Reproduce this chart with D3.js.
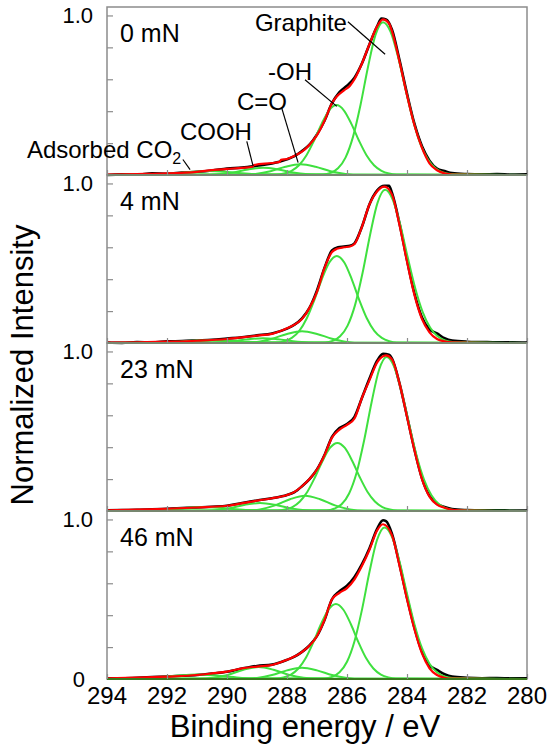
<!DOCTYPE html>
<html>
<head>
<meta charset="utf-8">
<script src="https://cdn.jsdelivr.net/npm/d3@7"></script>
<style>
  body { margin: 0; background: #fff; }
  svg text { font-family: Arial, "Liberation Sans", sans-serif; fill: #000; }
</style>
</head>
<body>
<div id="chart"></div>
<script>
// C 1s spectra, normalized, one panel per load
const loads = ['0 mN', '4 mN', '23 mN', '46 mN'];
const energyTicks = [294, 292, 290, 288, 286, 284, 282, 280];
const intensityTicks = [0.2, 0.4, 0.6, 0.8, 1.0];

// measured spectra (black), [binding energy, intensity]
const measured = [
  [[294,.0],[293.5,.004],[293,.002],[292.5,.01],[292,.008],[291.5,.015],[291,.02],[290.5,.028],[290,.04],[289.5,.046],[289,.058],[288.5,.072],[288,.098],[287.75,.118],[287.5,.15],[287.25,.19],[287,.255],[286.75,.34],[286.5,.45],[286.25,.52],[286,.56],[285.75,.61],[285.5,.70],[285.25,.82],[285,.93],[284.85,.98],[284.7,.975],[284.5,.91],[284.25,.72],[284,.51],[283.75,.32],[283.5,.18],[283.25,.09],[283,.04],[282.75,.025],[282.5,.012],[282,.006],[281.5,.004],[281,.006],[280.5,.003],[280,.004]],
  [[294,.003],[293.5,.001],[293,.006],[292.5,.004],[292,.01],[291.5,.012],[291,.016],[290.5,.02],[290,.028],[289.5,.036],[289,.048],[288.5,.06],[288,.09],[287.75,.115],[287.5,.155],[287.25,.22],[287,.33],[286.75,.47],[286.5,.58],[286.3,.60],[286.1,.605],[285.9,.61],[285.75,.625],[285.5,.73],[285.25,.87],[285,.955],[284.75,.985],[284.6,.985],[284.5,.94],[284.25,.75],[284,.52],[283.75,.31],[283.5,.16],[283.25,.085],[283,.06],[282.75,.03],[282.5,.015],[282,.008],[281.5,.006],[281,.004],[280.5,.005],[280,.003]],
  [[294,.004],[293.5,.006],[293,.007],[292.5,.01],[292,.014],[291.5,.018],[291,.022],[290.5,.027],[290,.033],[289.5,.05],[289,.066],[288.5,.08],[288,.1],[287.75,.118],[287.5,.155],[287.25,.2],[287,.26],[286.75,.35],[286.5,.465],[286.25,.52],[286,.545],[285.75,.59],[285.5,.71],[285.25,.83],[285,.94],[284.8,.985],[284.6,.98],[284.5,.955],[284.25,.80],[284,.595],[283.75,.385],[283.5,.205],[283.25,.095],[283,.045],[282.75,.025],[282.5,.012],[282,.006],[281.5,.004],[281,.005],[280.5,.003],[280,.003]],
  [[294,.004],[293.5,.005],[293,.008],[292.5,.012],[292,.016],[291.5,.02],[291,.025],[290.5,.034],[290,.045],[289.5,.065],[289,.082],[288.5,.09],[288,.12],[287.75,.14],[287.5,.17],[287.25,.21],[287,.27],[286.75,.37],[286.5,.5],[286.25,.55],[286,.585],[285.75,.64],[285.5,.72],[285.25,.82],[285,.94],[284.8,.995],[284.7,.99],[284.5,.91],[284.25,.72],[284,.51],[283.75,.32],[283.5,.17],[283.25,.085],[283,.057],[282.75,.03],[282.5,.015],[282,.008],[281.5,.005],[281,.006],[280.5,.004],[280,.004]]
];

// fitted envelope (red)
const envelope = [
  [[294,.003],[293,.006],[292,.01],[291,.02],[290.5,.03],[290,.038],[289.5,.045],[289.15,.052],[289.1,.062],[288.5,.075],[288.25,.082],[288.2,.095],[288,.1],[287.75,.12],[287.5,.146],[287.25,.19],[287,.25],[286.75,.34],[286.5,.45],[286.35,.49],[286.1,.53],[285.9,.56],[285.75,.60],[285.5,.70],[285.25,.82],[285,.93],[284.8,.975],[284.6,.95],[284.5,.9],[284.25,.71],[284,.5],[283.75,.31],[283.5,.17],[283.25,.073],[283,.03],[282.75,.01],[282.5,.003],[281,0],[280,0]],
  [[294,.002],[293,.004],[292,.008],[291,.014],[290,.025],[289.5,.035],[289,.046],[288.5,.057],[288,.092],[287.75,.115],[287.5,.15],[287.25,.22],[287,.32],[286.75,.47],[286.5,.57],[286.34,.59],[286.1,.60],[285.9,.605],[285.75,.62],[285.5,.73],[285.25,.87],[285,.95],[284.75,.98],[284.5,.93],[284.25,.74],[284,.51],[283.75,.30],[283.5,.15],[283.25,.067],[283,.025],[282.75,.01],[282.5,.004],[281,0],[280,0]],
  [[294,.004],[293,.008],[292,.014],[291,.022],[290,.033],[289,.065],[288.5,.08],[288,.10],[287.75,.12],[287.5,.155],[287.25,.2],[287,.26],[286.75,.35],[286.5,.46],[286.25,.51],[286,.54],[285.75,.58],[285.5,.71],[285.25,.82],[285,.93],[284.7,.975],[284.5,.95],[284.25,.80],[284,.59],[283.75,.38],[283.5,.20],[283.25,.09],[283,.04],[282.75,.02],[282.5,.008],[282,.002],[281,0],[280,0]],
  [[294,.004],[293,.008],[292,.015],[291,.025],[290.5,.035],[290,.046],[289.5,.067],[289,.078],[288.5,.088],[288,.12],[287.5,.17],[287,.27],[286.75,.37],[286.5,.5],[286.25,.54],[286,.57],[285.75,.625],[285.5,.71],[285.25,.81],[285,.93],[284.8,.97],[284.5,.9],[284.25,.71],[284,.5],[283.75,.31],[283.5,.16],[283.25,.067],[283,.025],[282.75,.008],[282.5,.002],[281,0],[280,0]]
];

// fitted components (green)
const graphite = [
  [[286.8,.004],[286.55,.013],[286.3,.042],[286.05,.109],[285.8,.239],[285.55,.439],[285.3,.677],[285.05,.878],[284.8,.958],[284.55,.899],[284.3,.742],[284.05,.539],[283.8,.345],[283.55,.194],[283.3,.097],[283.05,.042],[282.8,.016],[282.55,.006]],
  [[286.73,.004],[286.48,.013],[286.23,.042],[285.98,.109],[285.73,.239],[285.48,.440],[285.23,.679],[284.98,.880],[284.73,.96],[284.48,.900],[284.23,.744],[283.98,.540],[283.73,.346],[283.48,.195],[283.23,.097],[282.98,.042],[282.73,.016],[282.48,.006]],
  [[286.68,.004],[286.43,.014],[286.18,.042],[285.93,.110],[285.68,.240],[285.43,.442],[285.18,.682],[284.93,.885],[284.68,.965],[284.43,.905],[284.18,.748],[283.93,.543],[283.68,.347],[283.43,.196],[283.18,.097],[282.93,.042],[282.68,.016],[282.43,.006]],
  [[286.75,.004],[286.5,.013],[286.25,.042],[286,.108],[285.75,.237],[285.5,.435],[285.25,.672],[285,.871],[284.75,.95],[284.5,.891],[284.25,.736],[284,.535],[283.75,.342],[283.5,.193],[283.25,.096],[283,.042],[282.75,.016],[282.5,.006]]
];
const hydroxyl = [
  [[288.35,.003],[288.1,.009],[287.85,.026],[287.6,.061],[287.35,.124],[287.1,.215],[286.85,.319],[286.6,.404],[286.35,.438],[286.1,.404],[285.85,.319],[285.6,.215],[285.35,.124],[285.1,.061],[284.85,.026],[284.6,.009],[284.35,.003]],
  [[288.34,.003],[288.09,.011],[287.84,.032],[287.59,.076],[287.34,.155],[287.09,.269],[286.84,.399],[286.59,.505],[286.34,.546],[286.09,.505],[285.84,.399],[285.59,.269],[285.34,.155],[285.09,.076],[284.84,.032],[284.59,.011],[284.34,.003]],
  [[288.32,.003],[288.07,.009],[287.82,.025],[287.57,.060],[287.32,.121],[287.07,.210],[286.82,.312],[286.57,.395],[286.32,.427],[286.07,.395],[285.82,.312],[285.57,.210],[285.32,.121],[285.07,.060],[284.82,.025],[284.57,.009],[284.32,.003]],
  [[288.37,.003],[288.12,.010],[287.87,.028],[287.62,.066],[287.37,.133],[287.12,.231],[286.87,.343],[286.62,.434],[286.37,.47],[286.12,.434],[285.87,.343],[285.62,.231],[285.37,.133],[285.12,.066],[284.87,.028],[284.62,.010],[284.37,.003]]
];
const carbonyl = [
  [[289.55,.001],[289.05,.007],[288.55,.024],[288.05,.052],[287.55,.067],[287.05,.052],[286.55,.024],[286.05,.007],[285.55,.001]],
  [[289.5,.001],[289,.007],[288.5,.027],[288,.057],[287.5,.074],[287,.057],[286.5,.027],[286,.007],[285.5,.001]],
  [[289.4,.002],[288.9,.010],[288.4,.035],[287.9,.074],[287.4,.096],[286.9,.074],[286.4,.035],[285.9,.010],[285.4,.002]],
  [[289.5,.001],[289,.007],[288.5,.025],[288,.054],[287.5,.07],[287,.054],[286.5,.025],[286,.007],[285.5,.001]]
];
const carboxyl = [
  [[290.8,.001],[290.3,.005],[289.8,.016],[289.3,.035],[288.8,.045],[288.3,.035],[287.8,.016],[287.3,.005],[286.8,.001]],
  [[290.8,.001],[290.3,.003],[289.8,.011],[289.3,.023],[288.8,.03],[288.3,.023],[287.8,.011],[287.3,.003],[286.8,.001]],
  [[290.9,.001],[290.4,.005],[289.9,.018],[289.4,.039],[288.9,.05],[288.4,.039],[287.9,.018],[287.4,.005],[286.9,.001]],
  [[290.95,.001],[290.45,.008],[289.95,.027],[289.45,.058],[288.95,.075],[288.45,.058],[287.95,.027],[287.45,.008],[286.95,.001]]
];
const adsorbedCO2 = [
  [[293.1,.001],[292.6,.002],[292.1,.006],[291.6,.013],[291.1,.021],[290.6,.025],[290.1,.021],[289.6,.013],[289.1,.006],[288.6,.002],[288.1,.001]],
  [[293,.0004],[292.5,.002],[292,.004],[291.5,.010],[291,.015],[290.5,.018],[290,.015],[289.5,.010],[289,.004],[288.5,.002],[288,.0004]],
  [[293.3,.001],[292.8,.002],[292.3,.006],[291.8,.013],[291.3,.021],[290.8,.025],[290.3,.021],[289.8,.013],[289.3,.006],[288.8,.002],[288.3,.001]],
  [[293.5,.001],[293,.002],[292.5,.007],[292,.015],[291.5,.024],[291,.028],[290.5,.024],[290,.015],[289.5,.007],[289,.002],[288.5,.001]]
];

// labels for the top panel: text anchor and leader line, in data units
const annotations = [
  {text: 'Graphite', at: [289.07, .903], line: [[285.97, .961], [284.73, .757]]},
  {text: '-OH', at: [288.63, .597], line: [[287.4, .597], [286.34, .43]]},
  {text: 'C=O', at: [289.67, .409], line: [[288.18, .422], [287.63, .078]]},
  {text: 'COOH', at: [291.57, .222], line: [[289.34, .211], [289.13, .055]]},
  {text: 'Adsorbed CO', sub: '2', at: [296.67, .109], line: [[291.47, .097], [291.23, .034]]}
];

const width = 548;
const height = 750;
const margin = {top: 7, right: 21, bottom: 71, left: 107};
const plotWidth = width - margin.left - margin.right;
const panelHeight = (height - margin.top - margin.bottom) / loads.length;

const green = '#3fe03f';
const frameColor = '#8c8c8c';

let svg = d3.select('#chart').append('svg')
  .attr('width', width)
  .attr('height', height);

let scaleX = d3.scaleLinear()
  .domain([294, 280])
  .range([0, plotWidth]);

let scaleY = d3.scaleLinear()
  .domain([0, 1.053])
  .range([panelHeight, 0]);

let line = d3.line()
  .x(d => scaleX(d[0]))
  .y(d => scaleY(d[1]))
  .curve(d3.curveMonotoneX);

// pad each component out to the full energy range so the baseline shows
let padded = pts => [[294, 0]].concat(pts, [[280, 0]]);

loads.forEach((load, i) => {
  let panel = svg.append('g')
    .attr('transform', `translate(${margin.left}, ${margin.top + i * panelHeight})`);

  // frame
  panel.append('rect')
    .attr('x', 0)
    .attr('y', 0)
    .attr('width', plotWidth)
    .attr('height', panelHeight)
    .attr('fill', 'none')
    .attr('stroke', frameColor)
    .attr('stroke-width', 1.5);

  panel.append('path')
    .datum(measured[i])
    .attr('d', line)
    .attr('fill', 'none')
    .attr('stroke', '#000')
    .attr('stroke-width', 2.6);

  [adsorbedCO2, carboxyl, carbonyl, hydroxyl, graphite].forEach(comp => {
    panel.append('path')
      .datum(padded(comp[i]))
      .attr('d', line)
      .attr('fill', 'none')
      .attr('stroke', green)
      .attr('stroke-width', 2);
  });

  panel.append('path')
    .datum(envelope[i])
    .attr('d', line)
    .attr('fill', 'none')
    .attr('stroke', '#ff0000')
    .attr('stroke-width', 2.2);

  // baseline where the curves sit
  panel.append('line')
    .attr('x1', 0)
    .attr('x2', plotWidth)
    .attr('y1', scaleY(0))
    .attr('y2', scaleY(0))
    .attr('stroke', '#3a7a1e')
    .attr('stroke-width', 2);

  // inward ticks
  let yAxis = d3.axisRight(scaleY).tickValues(intensityTicks).tickSize(6).tickFormat('');
  panel.append('g').call(yAxis)
    .call(g => g.select('.domain').remove())
    .selectAll('line').attr('stroke', frameColor).attr('stroke-width', 1.2);

  let xAxis = d3.axisTop(scaleX).tickValues(energyTicks).tickSize(5).tickFormat('');
  panel.append('g')
    .attr('transform', `translate(0, ${panelHeight})`)
    .call(xAxis)
    .call(g => g.select('.domain').remove())
    .selectAll('line').attr('stroke', frameColor).attr('stroke-width', 1.2);

  panel.append('text')
    .attr('x', -14)
    .attr('y', scaleY(1.0))
    .attr('dy', '0.36em')
    .attr('text-anchor', 'end')
    .style('font-size', '22px')
    .text('1.0');

  panel.append('text')
    .attr('x', 13)
    .attr('y', 34.5)
    .style('font-size', '25px')
    .text(load);

  if (i === loads.length - 1) {
    panel.append('text')
      .attr('x', -22)
      .attr('y', scaleY(0))
      .attr('dy', '0.36em')
      .attr('text-anchor', 'end')
      .style('font-size', '22px')
      .text('0');

    panel.selectAll('text.tick-label')
      .data(energyTicks)
      .enter().append('text')
      .classed('tick-label', true)
      .attr('x', d => scaleX(d))
      .attr('y', panelHeight + 25)
      .attr('text-anchor', 'middle')
      .style('font-size', '24px')
      .text(d => d);
  }

  if (i === 0) {
    annotations.forEach(a => {
      let t = panel.append('text')
        .attr('x', scaleX(a.at[0]))
        .attr('y', scaleY(a.at[1]))
        .style('font-size', '24px')
        .text(a.text);
      if (a.sub) {
        t.append('tspan')
          .attr('dy', 6)
          .style('font-size', '16px')
          .text(a.sub);
      }
      panel.append('line')
        .attr('x1', scaleX(a.line[0][0]))
        .attr('y1', scaleY(a.line[0][1]))
        .attr('x2', scaleX(a.line[1][0]))
        .attr('y2', scaleY(a.line[1][1]))
        .attr('stroke', '#000')
        .attr('stroke-width', 1.2);
    });
  }
});

svg.append('text')
  .attr('x', 305)
  .attr('y', 737)
  .attr('text-anchor', 'middle')
  .style('font-size', '31px')
  .text('Binding energy / eV');

svg.append('text')
  .attr('transform', 'translate(33, 365) rotate(-90)')
  .attr('text-anchor', 'middle')
  .style('font-size', '31px')
  .text('Normalized Intensity');
</script>
</body>
</html>
